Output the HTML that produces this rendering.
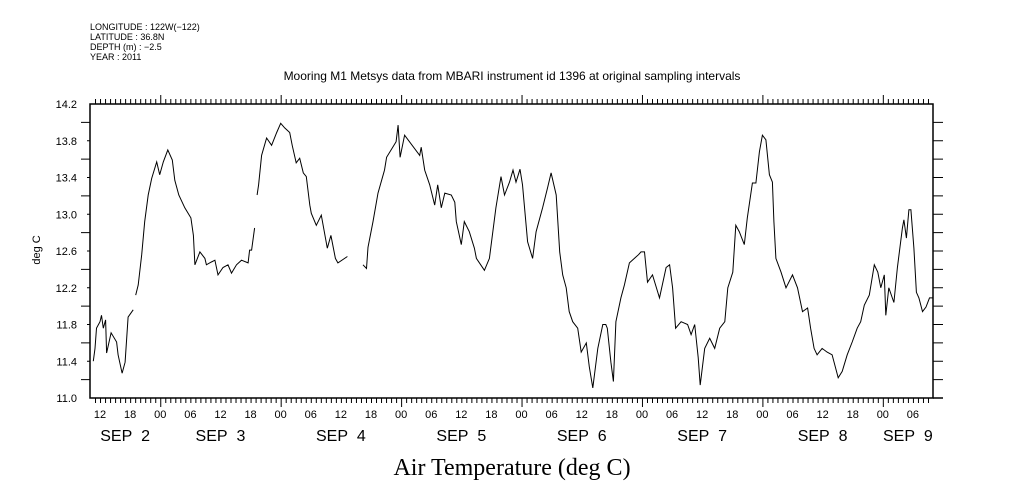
<!DOCTYPE html>
<html><head><meta charset="utf-8"><style>
body{margin:0;background:#fff;}
svg{display:block;font-family:"Liberation Sans",sans-serif;}
</style></head><body>
<svg id="chart" width="1009" height="504" viewBox="0 0 1009 504" xmlns="http://www.w3.org/2000/svg">
<g font-size="9" fill="#000">
<text x="90" y="30">LONGITUDE : 122W(−122)</text>
<text x="90" y="40">LATITUDE : 36.8N</text>
<text x="90" y="50">DEPTH (m) : −2.5</text>
<text x="90" y="60">YEAR : 2011</text>
</g>
<text x="512" y="80" font-size="12" text-anchor="middle">Mooring M1 Metsys data from MBARI instrument id 1396 at original sampling intervals</text>
<text x="0" y="0" font-size="11" text-anchor="middle" transform="translate(40,250) rotate(-90)">deg C</text>
<text x="512" y="475" font-size="24" text-anchor="middle" font-family="Liberation Serif, serif">Air Temperature (deg C)</text>
<rect x="90" y="104" width="843" height="294" fill="none" stroke="#000" stroke-width="1.5"/>
<line x1="933" y1="398" x2="943" y2="398" stroke="#000" stroke-width="1.5"/>
<g id="ticks"></g>
<g id="labels"></g>
<path id="series" fill="none" stroke="#000" stroke-width="1"/>
</svg>
<script>
// hours since Sep 2 10:00, null = data gap
const hours = [0.66,1.0,1.3,2.0,2.3,2.65,3.1,3.3,4.2,5.3,5.6,6.4,7.0,7.6,8.6,null,
9.1,9.6,10.3,10.9,11.6,12.3,13.3,13.9,14.6,15.5,16.4,16.9,17.7,18.9,20.1,20.6,20.9,21.9,22.9,23.2,24.2,24.9,25.5,26.5,27.5,28.2,29.2,30.2,31.5,31.8,32.2,32.8,null,
33.3,33.6,34.2,35.2,36.2,37.2,38.0,38.8,39.8,40.3,41.1,41.8,42.5,43.1,43.8,44.1,45.1,46.1,47.3,48.0,48.9,49.4,51.3,null,
54.4,55.1,55.4,56.4,57.4,58.7,59.1,61.0,61.4,61.8,62.7,65.7,66.0,66.7,67.7,68.7,69.3,70.0,70.7,72.0,72.7,73.0,74.0,74.6,75.6,76.6,77.0,78.6,79.6,80.9,81.9,82.6,83.6,84.3,84.9,85.7,86.2,87.2,88.2,88.9,90.2,91.2,91.9,92.9,93.6,94.2,94.9,95.5,96.2,97.2,97.9,98.9,99.5,100.2,101.2,102.2,102.8,103.1,103.8,104.3,104.8,105.8,106.5,107.5,108.5,109.3,
109.8,110.5,111.1,112.1,113.5,114.8,115.5,116.1,116.7,117.8,119.1,119.8,120.5,121.2,121.6,122.5,123.5,124.5,125.5,126.5,127.1,128.1,128.7,129.4,130.4,131.0,132.0,132.7,133.4,134.0,134.7,135.4,136.0,136.3,136.7,137.7,138.7,140.0,141.0,142.0,143.0,143.6,144.3,144.9,145.9,146.9,147.9,149.1,149.9,150.9,151.9,152.9,153.6,154.3,155.3,156.3,157.0,157.6,158.3,158.6,159.2,160.2,160.9,161.9,162.2,162.7,163.2,163.6,164.2,164.7,165.2,165.9,166.6,167.3,167.9];
const temps = [11.40,11.54,11.76,11.83,11.90,11.76,11.85,11.49,11.71,11.61,11.47,11.27,11.39,11.88,11.96,null,
12.12,12.23,12.56,12.92,13.21,13.39,13.57,13.43,13.57,13.70,13.59,13.37,13.21,13.07,12.96,12.77,12.45,12.59,12.52,12.45,12.48,12.50,12.34,12.42,12.45,12.36,12.45,12.50,12.47,12.61,12.61,12.85,null,
13.21,13.32,13.64,13.83,13.75,13.89,13.99,13.94,13.89,13.75,13.56,13.61,13.45,13.41,13.10,13.01,12.88,12.99,12.63,12.77,12.52,12.47,12.54,null,
12.45,12.41,12.64,12.92,13.23,13.48,13.62,13.79,13.97,13.62,13.86,13.64,13.73,13.48,13.32,13.10,13.32,13.07,13.23,13.21,13.13,12.92,12.67,12.92,12.81,12.63,12.52,12.39,12.52,13.07,13.41,13.21,13.35,13.48,13.35,13.49,13.32,12.70,12.52,12.81,13.07,13.29,13.45,13.21,12.59,12.34,12.20,11.94,11.83,11.76,11.50,11.60,11.34,11.11,11.54,11.80,11.80,11.76,11.39,11.18,11.83,12.09,12.23,12.47,12.52,12.56,
12.59,12.59,12.26,12.34,12.09,12.42,12.45,12.20,11.76,11.83,11.80,11.69,11.80,11.44,11.14,11.54,11.65,11.54,11.76,11.83,12.20,12.37,12.88,12.81,12.67,12.96,13.34,13.34,13.68,13.86,13.81,13.43,13.35,12.92,12.52,12.37,12.20,12.34,12.20,11.94,11.98,11.76,11.54,11.47,11.54,11.50,11.47,11.22,11.29,11.47,11.61,11.76,11.83,12.01,12.12,12.45,12.37,12.20,12.34,11.90,12.20,12.04,12.42,12.85,12.94,12.74,13.05,13.05,12.63,12.15,12.09,11.94,11.99,12.09,12.09];
const yTickLabels = ["11.0","11.4","11.8","12.2","12.6","13.0","13.4","13.8","14.2"];
const hourLabels = ["12","18","00","06"];
const dateLabels = ["SEP 2","SEP 3","SEP 4","SEP 5","SEP 6","SEP 7","SEP 8","SEP 9"];
const dateLabelHours = [7,26,50,74,98,122,146,163];

const X0=90,X1=933,Y0=398,Y1=104,HMAX=168,VMIN=11.0,VMAX=14.2;
const xs=h=>X0+(h/HMAX)*(X1-X0);
const ys=v=>Y0-(v-VMIN)/(VMAX-VMIN)*(Y0-Y1);
const NS="http://www.w3.org/2000/svg";
let d="",pen=false;
for(let i=0;i<hours.length;i++){
 if(hours[i]===null||temps[i]===null){pen=false;continue;}
 d+=(pen?"L":"M")+xs(hours[i]).toFixed(1)+" "+ys(temps[i]).toFixed(1)+" ";pen=true;
}
document.getElementById("series").setAttribute("d",d);
const tg=document.getElementById("ticks"),lg=document.getElementById("labels");
function ln(x1,y1,x2,y2){const l=document.createElementNS(NS,"line");
l.setAttribute("x1",x1);l.setAttribute("y1",y1);l.setAttribute("x2",x2);l.setAttribute("y2",y2);
l.setAttribute("stroke","#000");l.setAttribute("stroke-width","1");


tg.appendChild(l);}
function tx(x,y,s,size,anchor){const t=document.createElementNS(NS,"text");
t.setAttribute("x",x);t.setAttribute("y",y);t.setAttribute("font-size",size);t.setAttribute("text-anchor",anchor);
t.textContent=s;


lg.appendChild(t);}
for(let h=1;h<HMAX;h++){
 const x=xs(h)+0.5; const major=((h+10)%24)===0;
 const L=major?9:5;
 ln(x,Y1,x,Y1-L); ln(x,Y0,x,Y0+L);
}
for(let h=2,k=0;h<HMAX;h+=6,k++){tx(xs(h),418,hourLabels[k%4],11,"middle");}
for(let i=0;i<dateLabels.length;i++){tx(xs(dateLabelHours[i]),441,dateLabels[i].replace(" ","\u00a0\u00a0"),16,"middle");}
for(let k=0;k<=16;k++){
 const v=VMIN+k*0.2,y=ys(v);const lab=k%2===0;
 if(k>0&&k<16){ln(X0-(lab?3:9),y,X0,y);ln(X1,y,X1+10,y);}
}
for(let i=0;i<yTickLabels.length;i++){tx(77,ys(parseFloat(yTickLabels[i]))+4,yTickLabels[i],11,"end");}
</script>
</body></html>
